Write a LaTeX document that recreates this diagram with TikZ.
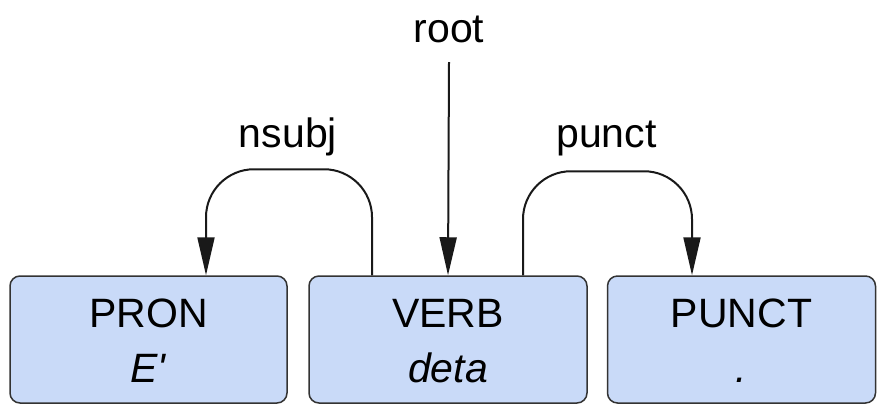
\documentclass[tikz,border=0pt]{standalone}
\usepackage{fontspec}
\setmainfont{Liberation Sans}
\usetikzlibrary{arrows.meta,calc}
\definecolor{tokfill}{HTML}{C9DAF8}
\definecolor{tokline}{HTML}{333333}
\tikzset{
  tokbox/.style={draw=tokline, fill=tokfill, line width=1.5pt, rounded corners=10pt,
    minimum height=127pt, inner sep=0pt},
  lbl/.style={inner sep=0pt, anchor=base, font=\fontsize{41}{49}\selectfont},
  arr/.style={draw=black!90, line width=2pt, -{Triangle[length=38pt,width=17pt]}},
  dep/.style={arr, rounded corners=48pt}
}
\begin{document}
\begin{tikzpicture}[x=1pt,y=-1pt]
\useasboundingbox (0,0) rectangle (877,405);

% token boxes
\node[tokbox, minimum width=277pt] (pron)  at (148.5,339.5) {};
\node[tokbox, minimum width=278pt] (verb)  at (448,339.5) {};
\node[tokbox, minimum width=268pt] (punct) at (741.5,339.5) {};

% part-of-speech tags and word forms
\node[lbl] (pronTag)   at ($(pron.center)+(0,-12.5)$)  {PRON};
\node[lbl] (pronWord)  at ($(pron.center)+(0,42.5)$)   {\textit{E\textquotesingle}};
\node[lbl] (verbTag)   at ($(verb.center)+(0,-12.5)$)  {VERB};
\node[lbl] (verbWord)  at ($(verb.center)+(0,42.5)$)   {\textit{deta}};
\node[lbl] (punctTag)  at ($(punct.center)+(0,-12.5)$) {PUNCT};
\node[lbl] (punctWord) at ($(punct.center)+(0,42.5)$)  {\textit{.}};

% relation labels
\node[lbl] (root)  at (449,42)    {root};
\node[lbl] (nsubj) at (288,147)   {nsubj};
\node[lbl] (pct)   at (606.5,147) {punct};

% root arrow
\draw[arr] ($(root.base)+(0,20)$) -- (verb.north);

% nsubj: VERB -> PRON
\coordinate (nsA) at ($(verb.north)+(-76,0)$);
\coordinate (nsB) at ($(pron.north)+(57.5,0)$);
\draw[dep] (nsA) -- ++(0,-106) -| (nsB);

% punct: VERB -> PUNCT
\coordinate (ptA) at ($(verb.north)+(75,0)$);
\coordinate (ptB) at ($(punct.north)+(-49.5,0)$);
\draw[dep] (ptA) -- ++(0,-104) -| (ptB);
\end{tikzpicture}
\end{document}
